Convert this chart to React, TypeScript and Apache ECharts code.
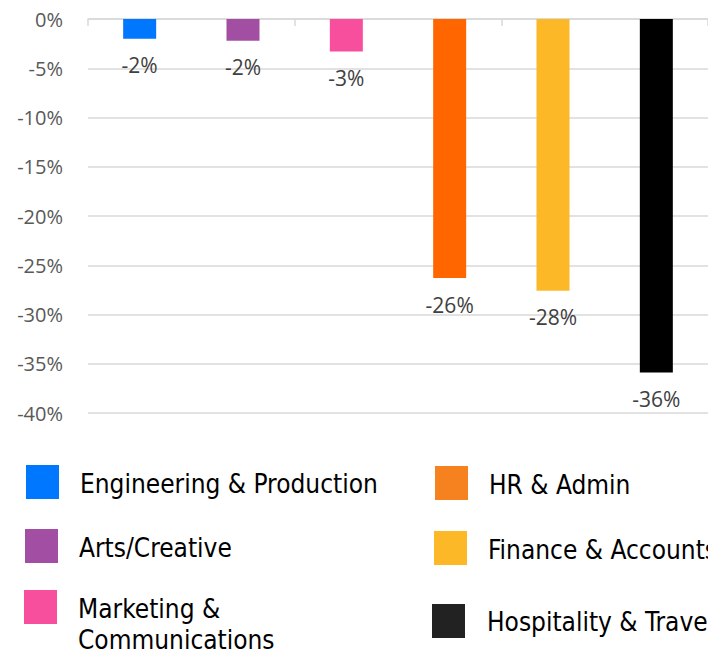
import React, { useEffect, useRef } from "react";
import * as echarts from "echarts";

const categories = [
  "Engineering & Production",
  "Arts/Creative",
  "Marketing & Communications",
  "HR & Admin",
  "Finance & Accounts",
  "Hospitality & Travel",
];
const values = [-2.0, -2.2, -3.3, -26.3, -27.6, -35.9];
const barColors = ["#0077FF", "#A24FA3", "#F74F9E", "#FF6600", "#FCB827", "#000000"];
const legendNames = [
  "Engineering & Production",
  "Arts/Creative",
  "Marketing &\nCommunications",
  "HR & Admin",
  "Finance & Accounts",
  "Hospitality & Travel",
];
const legendColors = ["#0077FF", "#A24FA3", "#F74F9E", "#F5821F", "#FCB827", "#222222"];
const yTicks = { min: -40, max: 0, interval: 5 };

// legend layout (square top-left, text centre)
const legendLayout = [
  { sx: 26, sy: 465, tx: 80, ty: 484 },
  { sx: 25, sy: 529, tx: 79, ty: 548 },
  { sx: 24, sy: 590, tx: 78, ty: 624 },
  { sx: 435, sy: 466, tx: 489, ty: 485 },
  { sx: 434, sy: 531, tx: 488, ty: 550 },
  { sx: 432, sy: 604, tx: 487, ty: 622 },
];

export default function App() {
  const ref = useRef<HTMLDivElement>(null);
  useEffect(() => {
    if (!ref.current) return;
    const chart = echarts.init(ref.current, null, { renderer: "svg" });
    const legendFont = "'DejaVu Sans Condensed', 'DejaVu Sans', sans-serif";
    const graphic: any[] = [];
    legendNames.forEach((name, i) => {
      const p = legendLayout[i];
      graphic.push({
        type: "rect",
        shape: { x: p.sx, y: p.sy, width: 33, height: 34 },
        style: { fill: legendColors[i] },
      });
      graphic.push({
        type: "text",
        x: p.tx,
        y: p.ty,
        style: {
          text: name,
          fill: "#000000",
          font: `26px ${legendFont}`,
          verticalAlign: "middle",
          align: "left",
          lineHeight: 31,
        },
      });
    });
    chart.setOption({
      animation: false,
      backgroundColor: "#ffffff",
      grid: { left: 88, top: 19, width: 624, height: 394 },
      xAxis: {
        type: "category",
        data: categories,
        axisLine: { onZero: true, lineStyle: { color: "#d9d9d9", width: 1.5 } },
        axisTick: { show: true, length: 7, lineStyle: { color: "#d9d9d9", width: 1.5 } },
        axisLabel: { show: false },
      },
      yAxis: {
        type: "value",
        min: yTicks.min,
        max: yTicks.max,
        interval: yTicks.interval,
        axisLine: { show: false },
        axisTick: { show: false },
        axisLabel: {
          formatter: "{value}%",
          color: "#595959",
          fontSize: 20,
          fontFamily: "'Open Sans', sans-serif",
          margin: 25,
        },
        splitLine: { lineStyle: { color: "#d9d9d9", width: 1.5 } },
      },
      series: [
        {
          type: "bar",
          barWidth: 33,
          data: values.map((v, i) => ({ value: v, itemStyle: { color: barColors[i] } })),
          label: {
            show: true,
            position: "bottom",
            distance: 16,
            color: "#404040",
            fontSize: 21,
            fontFamily: "'Open Sans', sans-serif",
            formatter: (p: any) => Math.round(p.value) + "%",
          },
        },
      ],
      graphic,
    });
    return () => chart.dispose();
  }, []);
  return (
    <div
      ref={ref}
      style={{ position: "absolute", left: 0, top: 0, width: 708, height: 653 }}
    />
  );
}
